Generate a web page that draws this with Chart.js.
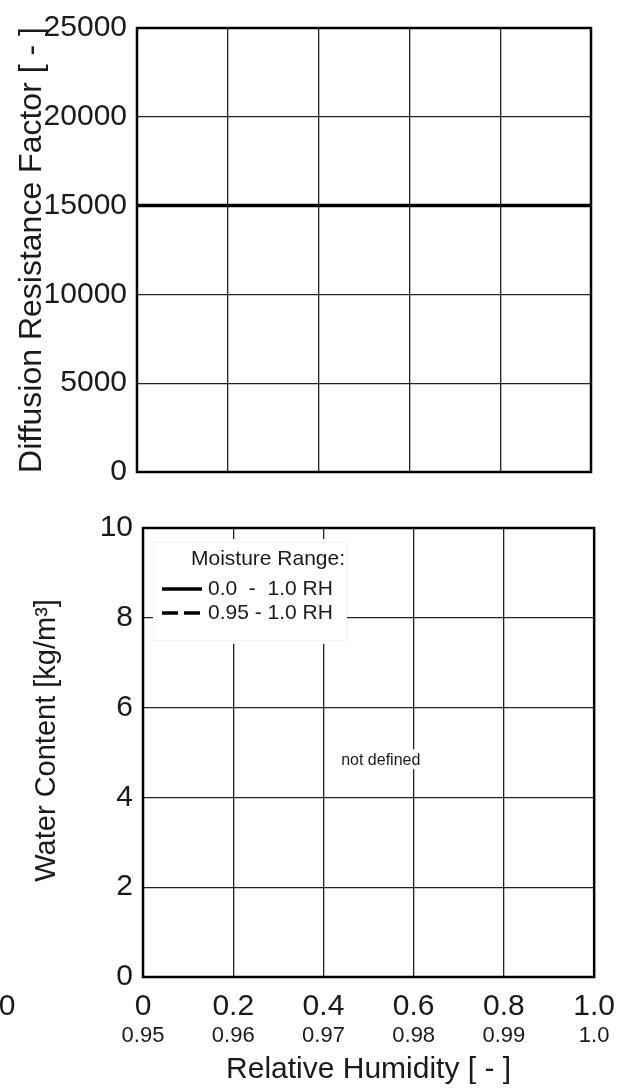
<!DOCTYPE html>
<html>
<head>
<meta charset="utf-8">
<script src="https://cdn.jsdelivr.net/npm/chart.js@4/dist/chart.umd.min.js"></script>
<style>
  body { margin: 0; background: #fff; }
  canvas { position: absolute; left: 0; }
  #diffusion { top: 0; }
  #water { top: 500px; }
</style>
</head>
<body>
<canvas id="diffusion" width="627" height="500"></canvas>
<canvas id="water" width="627" height="588"></canvas>
<script>
// tick labels
var rhTicks = ['0', '0.2', '0.4', '0.6', '0.8', '1.0'];
var rhTicksHigh = ['0.95', '0.96', '0.97', '0.98', '0.99', '1.0'];

// diffusion resistance factor, constant over the whole range
var diffusionRH = [0, 1];
var diffusionFactor = [15000, 15000];

// water content: not defined for this material
var waterRH = [];
var waterContent = [];
var waterRHHigh = [];
var waterContentHigh = [];

var FONT = "'Liberation Sans', Arial, sans-serif";
var INK = '#1a1a1a';

// draws the black frame round the plot area
var framePlugin = {
    id: 'frame',
    afterDatasetsDraw: function(chart) {
        var a = chart.chartArea, ctx = chart.ctx;
        ctx.save();
        ctx.strokeStyle = '#000';
        ctx.lineWidth = 2.5;
        ctx.strokeRect(a.left, a.top, a.right - a.left, a.bottom - a.top);
        ctx.restore();
    }
};

// legend box and the "not defined" note on the water content chart
var notesPlugin = {
    id: 'notes',
    beforeDatasetsDraw: function(chart) {
        var ctx = chart.ctx, a = chart.chartArea;
        var x = chart.scales.x, y = chart.scales.y;
        ctx.save();

        // legend box
        var bx = a.left + 10, by = a.top + 11;
        ctx.fillStyle = '#fff';
        ctx.fillRect(bx, by, 194, 105);
        ctx.strokeStyle = '#f2f2f2';
        ctx.lineWidth = 1;
        ctx.strokeRect(bx + 0.5, by + 3.5, 193, 98);
        ctx.fillStyle = INK;
        ctx.font = '21px ' + FONT;
        ctx.textBaseline = 'middle';
        ctx.textAlign = 'center';
        ctx.fillText('Moisture Range:', bx + 115, by + 20);
        ctx.textAlign = 'left';
        chart.data.datasets.forEach(function(ds, i) {
            var ly = by + 50 + i * 24;
            ctx.beginPath();
            ctx.strokeStyle = '#000';
            ctx.lineWidth = 3.5;
            ctx.setLineDash(ds.borderDash || []);
            ctx.moveTo(bx + 9, ly);
            ctx.lineTo(bx + 49, ly);
            ctx.stroke();
            ctx.setLineDash([]);
            ctx.fillText(ds.label, bx + 55, ly);
        });

        // not defined note
        var nx = x.getPixelForValue(0.527), ny = y.getPixelForValue(4.85);
        ctx.fillStyle = '#fff';
        ctx.fillRect(nx - 43, ny - 10, 86, 20);
        ctx.fillStyle = INK;
        ctx.font = '16px ' + FONT;
        ctx.textAlign = 'center';
        ctx.fillText('not defined', nx, ny + 1);

        // stray zero at the far left
        ctx.font = '30px ' + FONT;
        ctx.fillText('0', 7, a.bottom + 30);
        ctx.restore();
    }
};

var gridOpts = { color: '#222', lineWidth: 1.3, drawTicks: false };
var plain = function(v) { return String(v); };

new Chart(document.getElementById('diffusion'), {
    type: 'line',
    data: {
        datasets: [{
            label: 'Diffusion Resistance Factor',
            data: diffusionRH.map(function(v, i) { return { x: v, y: diffusionFactor[i] }; }),
            borderColor: '#000',
            borderWidth: 3.5,
            pointRadius: 0,
            fill: false
        }]
    },
    options: {
        responsive: false,
        animation: false,
        layout: { padding: { top: 24, right: 36, left: 0, bottom: 0 } },
        scales: {
            x: {
                type: 'linear', min: 0, max: 1,
                ticks: { display: false, stepSize: 0.2 },
                grid: gridOpts,
                border: { display: false },
                afterFit: function(s) { s.height = 21; }
            },
            y: {
                min: 0, max: 25000,
                ticks: {
                    stepSize: 5000, padding: 10, color: INK,
                    font: { family: FONT, size: 30 },
                    callback: plain
                },
                grid: gridOpts,
                border: { display: false },
                title: {
                    display: true,
                    text: 'Diffusion Resistance Factor [ - ]',
                    color: INK,
                    font: { family: FONT, size: 32 },
                    padding: { top: 13, bottom: 0 }
                },
                afterFit: function(s) { s.width = 137; }
            }
        },
        plugins: { legend: { display: false }, tooltip: { enabled: false } }
    },
    plugins: [framePlugin]
});

new Chart(document.getElementById('water'), {
    type: 'line',
    data: {
        datasets: [{
            label: '0.0  -  1.0 RH',
            data: waterRH.map(function(v, i) { return { x: v, y: waterContent[i] }; }),
            borderColor: '#000',
            borderWidth: 3.5,
            pointRadius: 0
        }, {
            label: '0.95 - 1.0 RH',
            data: waterRHHigh.map(function(v, i) { return { x: v, y: waterContentHigh[i] }; }),
            borderColor: '#000',
            borderWidth: 3.5,
            borderDash: [16, 6],
            pointRadius: 0
        }]
    },
    options: {
        responsive: false,
        animation: false,
        layout: { padding: { top: 24, right: 30, left: 0, bottom: 0 } },
        scales: {
            x: {
                type: 'linear', position: 'bottom', min: 0, max: 1,
                ticks: {
                    stepSize: 0.2, padding: 12, color: INK, maxRotation: 0,
                    font: { family: FONT, size: 30 },
                    callback: function(v, i) { return rhTicks[i]; }
                },
                grid: gridOpts,
                border: { display: false },
                afterFit: function(s) { s.height = 40; }
            },
            x2: {
                type: 'linear', position: 'bottom', min: 0, max: 1,
                ticks: {
                    stepSize: 0.2, padding: 6, color: INK, maxRotation: 0,
                    font: { family: FONT, size: 22 },
                    callback: function(v, i) { return rhTicksHigh[i]; }
                },
                grid: { display: false, drawTicks: false },
                border: { display: false },
                title: {
                    display: true,
                    text: 'Relative Humidity [ - ]',
                    color: INK,
                    font: { family: FONT, size: 30 },
                    padding: { top: 0, bottom: 0 }
                },
                afterFit: function(s) { s.height = 71; }
            },
            y: {
                min: 0, max: 10,
                ticks: {
                    stepSize: 2, padding: 10, color: INK,
                    font: { family: FONT, size: 30 },
                    callback: plain
                },
                grid: gridOpts,
                border: { display: false },
                title: {
                    display: true,
                    text: '   Water Content [kg/m³]',
                    color: INK,
                    font: { family: FONT, size: 29 },
                    padding: { top: 30, bottom: 0 }
                },
                afterFit: function(s) { s.width = 143; }
            }
        },
        plugins: { legend: { display: false }, tooltip: { enabled: false } }
    },
    plugins: [notesPlugin, framePlugin]
});
</script>
</body>
</html>
